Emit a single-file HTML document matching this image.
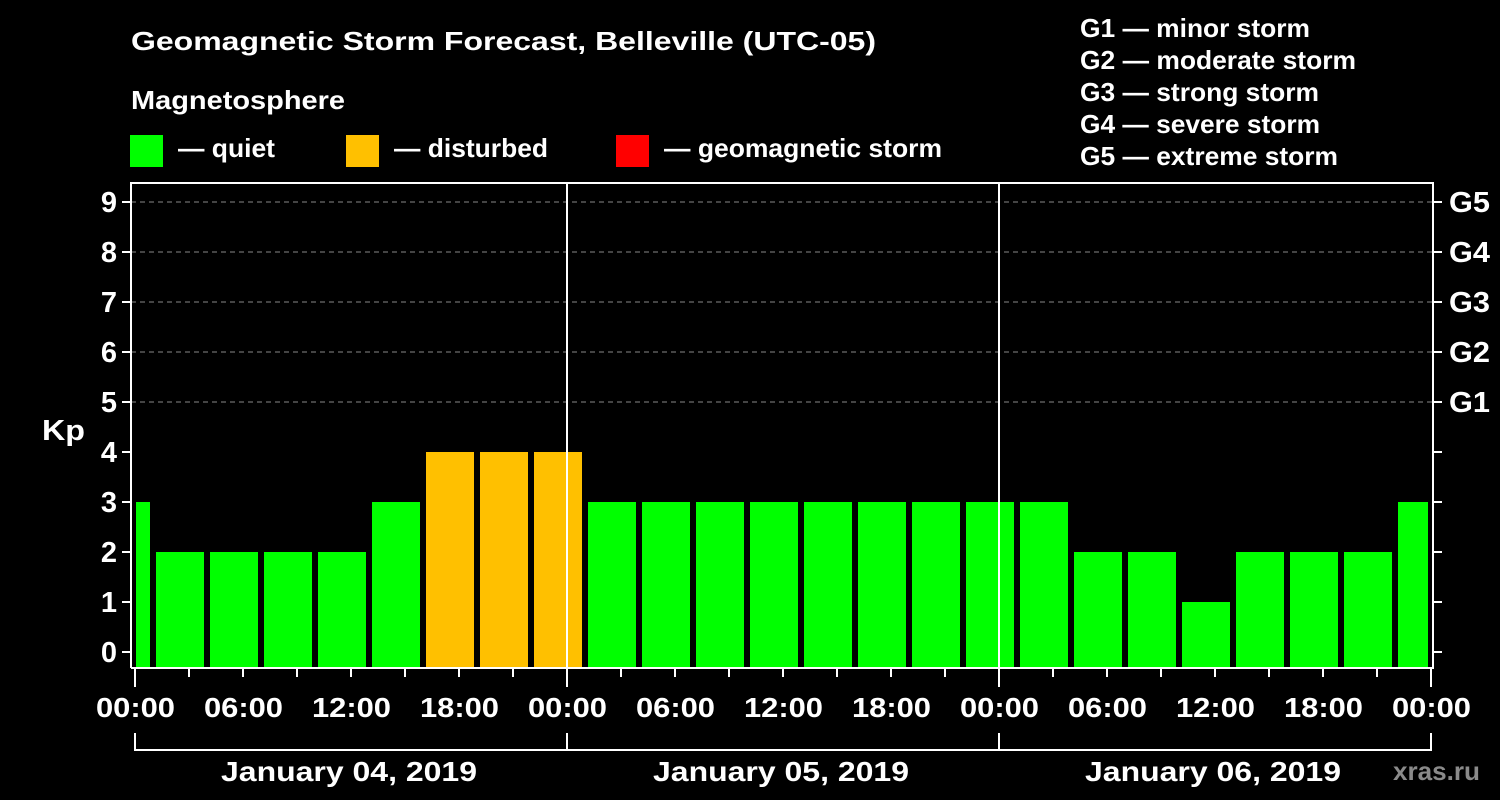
<!DOCTYPE html>
<html><head><meta charset="utf-8"><style>
html,body{margin:0;padding:0;background:#000;}
svg{display:block;font-family:"Liberation Sans",Arial,sans-serif;font-weight:bold;}
</style></head><body>
<svg width="1500" height="800" viewBox="0 0 1500 800" xmlns="http://www.w3.org/2000/svg">
<rect width="1500" height="800" fill="#000"/>
<g fill="#fff" font-size="26" lengthAdjust="spacingAndGlyphs">
<text x="131" y="50" textLength="745" lengthAdjust="spacingAndGlyphs">Geomagnetic Storm Forecast, Belleville (UTC-05)</text>
<text x="131" y="109" textLength="214" lengthAdjust="spacingAndGlyphs">Magnetosphere</text>
<text x="178" y="157" textLength="97" lengthAdjust="spacingAndGlyphs">— quiet</text>
<text x="394" y="157" textLength="154" lengthAdjust="spacingAndGlyphs">— disturbed</text>
<text x="664" y="157" textLength="278" lengthAdjust="spacingAndGlyphs">— geomagnetic storm</text>
<text x="1080" y="37" textLength="230" lengthAdjust="spacingAndGlyphs">G1 — minor storm</text>
<text x="1080" y="69" textLength="276" lengthAdjust="spacingAndGlyphs">G2 — moderate storm</text>
<text x="1080" y="101" textLength="239" lengthAdjust="spacingAndGlyphs">G3 — strong storm</text>
<text x="1080" y="133" textLength="240" lengthAdjust="spacingAndGlyphs">G4 — severe storm</text>
<text x="1080" y="165" textLength="258" lengthAdjust="spacingAndGlyphs">G5 — extreme storm</text>
</g>
<rect x="130" y="135" width="33" height="32" fill="#00ff00"/>
<rect x="346" y="135" width="33" height="32" fill="#ffc000"/>
<rect x="616" y="135" width="33" height="32" fill="#ff0000"/>
<g stroke="#888" stroke-width="1" stroke-dasharray="5,4">
<line x1="131" y1="202" x2="1433" y2="202"/>
<line x1="131" y1="252" x2="1433" y2="252"/>
<line x1="131" y1="302" x2="1433" y2="302"/>
<line x1="131" y1="352" x2="1433" y2="352"/>
<line x1="131" y1="402" x2="1433" y2="402"/>
</g>
<g>
<rect x="136" y="502" width="14" height="166" fill="#00ff00"/>
<rect x="156" y="552" width="48" height="116" fill="#00ff00"/>
<rect x="210" y="552" width="48" height="116" fill="#00ff00"/>
<rect x="264" y="552" width="48" height="116" fill="#00ff00"/>
<rect x="318" y="552" width="48" height="116" fill="#00ff00"/>
<rect x="372" y="502" width="48" height="166" fill="#00ff00"/>
<rect x="426" y="452" width="48" height="216" fill="#ffc000"/>
<rect x="480" y="452" width="48" height="216" fill="#ffc000"/>
<rect x="534" y="452" width="48" height="216" fill="#ffc000"/>
<rect x="588" y="502" width="48" height="166" fill="#00ff00"/>
<rect x="642" y="502" width="48" height="166" fill="#00ff00"/>
<rect x="696" y="502" width="48" height="166" fill="#00ff00"/>
<rect x="750" y="502" width="48" height="166" fill="#00ff00"/>
<rect x="804" y="502" width="48" height="166" fill="#00ff00"/>
<rect x="858" y="502" width="48" height="166" fill="#00ff00"/>
<rect x="912" y="502" width="48" height="166" fill="#00ff00"/>
<rect x="966" y="502" width="48" height="166" fill="#00ff00"/>
<rect x="1020" y="502" width="48" height="166" fill="#00ff00"/>
<rect x="1074" y="552" width="48" height="116" fill="#00ff00"/>
<rect x="1128" y="552" width="48" height="116" fill="#00ff00"/>
<rect x="1182" y="602" width="48" height="66" fill="#00ff00"/>
<rect x="1236" y="552" width="48" height="116" fill="#00ff00"/>
<rect x="1290" y="552" width="48" height="116" fill="#00ff00"/>
<rect x="1344" y="552" width="48" height="116" fill="#00ff00"/>
<rect x="1398" y="502" width="30" height="166" fill="#00ff00"/>
</g>
<g stroke="#fff" stroke-width="2" fill="none">
<polyline points="131,668 131,183 1433,183 1433,668 131,668"/>
<line x1="567" y1="183" x2="567" y2="668"/>
<line x1="999" y1="183" x2="999" y2="668"/>
<path d="M122 202H131M122 252H131M122 302H131M122 352H131M122 402H131M122 452H131M122 502H131M122 552H131M122 602H131M122 652H131"/>
<path d="M1433 202H1442M1433 252H1442M1433 302H1442M1433 352H1442M1433 402H1442M1433 452H1442M1433 502H1442M1433 552H1442M1433 602H1442M1433 652H1442"/>
<path d="M135 668V687M567 668V687M999 668V687M1431 668V687"/>
<path d="M189 668V677M243 668V677M297 668V677M351 668V677M405 668V677M459 668V677M513 668V677M621 668V677M675 668V677M729 668V677M783 668V677M837 668V677M891 668V677M945 668V677M1053 668V677M1107 668V677M1161 668V677M1215 668V677M1269 668V677M1323 668V677M1377 668V677"/>
<path d="M135 733V750H1431V733M567 733V750M999 733V750"/>
</g>
<g fill="#fff" font-size="29" text-anchor="end">
<text x="117" y="212">9</text><text x="117" y="262">8</text><text x="117" y="312">7</text>
<text x="117" y="362">6</text><text x="117" y="412">5</text><text x="117" y="462">4</text>
<text x="117" y="512">3</text><text x="117" y="562">2</text><text x="117" y="612">1</text>
<text x="117" y="662">0</text>
</g>
<g fill="#fff" font-size="29">
<text x="42" y="440" textLength="43" lengthAdjust="spacingAndGlyphs">Kp</text>
<text x="1449" y="212" textLength="41" lengthAdjust="spacingAndGlyphs">G5</text>
<text x="1449" y="262" textLength="41" lengthAdjust="spacingAndGlyphs">G4</text>
<text x="1449" y="312" textLength="41" lengthAdjust="spacingAndGlyphs">G3</text>
<text x="1449" y="362" textLength="41" lengthAdjust="spacingAndGlyphs">G2</text>
<text x="1449" y="412" textLength="41" lengthAdjust="spacingAndGlyphs">G1</text>
</g>
<g fill="#fff" font-size="28">
<text x="96" y="717" textLength="79" lengthAdjust="spacingAndGlyphs">00:00</text>
<text x="204" y="717" textLength="79" lengthAdjust="spacingAndGlyphs">06:00</text>
<text x="312" y="717" textLength="79" lengthAdjust="spacingAndGlyphs">12:00</text>
<text x="420" y="717" textLength="79" lengthAdjust="spacingAndGlyphs">18:00</text>
<text x="528" y="717" textLength="79" lengthAdjust="spacingAndGlyphs">00:00</text>
<text x="636" y="717" textLength="79" lengthAdjust="spacingAndGlyphs">06:00</text>
<text x="744" y="717" textLength="79" lengthAdjust="spacingAndGlyphs">12:00</text>
<text x="852" y="717" textLength="79" lengthAdjust="spacingAndGlyphs">18:00</text>
<text x="960" y="717" textLength="79" lengthAdjust="spacingAndGlyphs">00:00</text>
<text x="1068" y="717" textLength="79" lengthAdjust="spacingAndGlyphs">06:00</text>
<text x="1176" y="717" textLength="79" lengthAdjust="spacingAndGlyphs">12:00</text>
<text x="1284" y="717" textLength="79" lengthAdjust="spacingAndGlyphs">18:00</text>
<text x="1392" y="717" textLength="79" lengthAdjust="spacingAndGlyphs">00:00</text>
<text x="221" y="781" textLength="256" lengthAdjust="spacingAndGlyphs">January 04, 2019</text>
<text x="653" y="781" textLength="256" lengthAdjust="spacingAndGlyphs">January 05, 2019</text>
<text x="1085" y="781" textLength="256" lengthAdjust="spacingAndGlyphs">January 06, 2019</text>
</g>
<text x="1393" y="780" fill="#8a8a8a" font-size="26" textLength="87" lengthAdjust="spacingAndGlyphs">xras.ru</text>
</svg>
</body></html>
